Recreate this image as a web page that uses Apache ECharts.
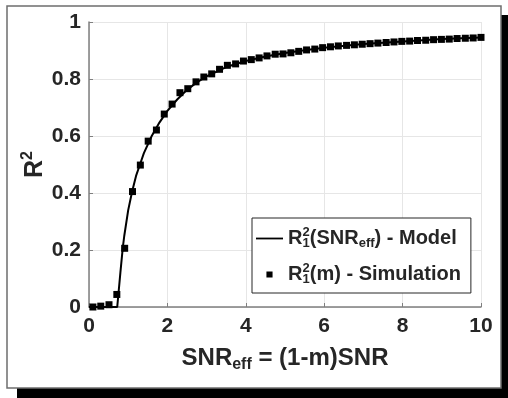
<!DOCTYPE html>
<html>
<head>
<meta charset="utf-8">
<script src="https://cdn.jsdelivr.net/npm/echarts@6/dist/echarts.min.js"></script>
<style>
  html, body { margin: 0; padding: 0; background: #fff; }
  #chart { width: 508px; height: 398px; }
</style>
</head>
<body>
<div id="chart"></div>
<script>
// Model curve R1^2(SNR_eff)
const modelX = [0, 0.25, 0.5, 0.72, 0.8, 0.86, 0.9, 1.0, 1.1, 1.2, 1.3, 1.4, 1.6, 1.8, 2.0, 2.25, 2.5, 2.75, 3.0, 3.5, 4.0, 4.5, 5.0, 5.5, 6.0, 7.0, 8.0, 9.0, 10.0];
const modelY = [0, 0, 0, 0, 0.12, 0.206, 0.25, 0.34, 0.405, 0.46, 0.5, 0.54, 0.6, 0.648, 0.688, 0.728, 0.762, 0.788, 0.809, 0.842, 0.863, 0.879, 0.891, 0.901, 0.91, 0.923, 0.932, 0.94, 0.946];

// Simulation points R1^2(m)
const simX = [0.10, 0.30, 0.51, 0.71, 0.91, 1.11, 1.31, 1.51, 1.72, 1.92,
              2.12, 2.32, 2.52, 2.73, 2.93, 3.13, 3.33, 3.53, 3.74, 3.94,
              4.14, 4.34, 4.54, 4.75, 4.95, 5.15, 5.35, 5.55, 5.76, 5.96,
              6.16, 6.36, 6.57, 6.77, 6.97, 7.17, 7.37, 7.58, 7.78, 7.98,
              8.18, 8.38, 8.59, 8.79, 8.99, 9.19, 9.39, 9.60, 9.80, 10.00];
const simY = [0.000, 0.003, 0.008, 0.044, 0.206, 0.405, 0.498, 0.582, 0.621, 0.677,
              0.712, 0.752, 0.766, 0.790, 0.807, 0.818, 0.834, 0.848, 0.853, 0.863,
              0.868, 0.874, 0.881, 0.887, 0.888, 0.892, 0.897, 0.902, 0.905, 0.910,
              0.913, 0.916, 0.918, 0.920, 0.922, 0.924, 0.926, 0.928, 0.930, 0.932,
              0.933, 0.935, 0.936, 0.938, 0.939, 0.940, 0.942, 0.943, 0.944, 0.946];

const xTicks = { min: 0, max: 10, interval: 2 };
const yTicks = { min: 0, max: 1, interval: 0.2 };

const font = 'Liberation Sans, Arial, Helvetica, sans-serif';
const textColor = '#262626';
const axisColor = '#7f7f7f';

const chart = echarts.init(document.getElementById('chart'), null, { renderer: 'canvas' });

const legendRich = {
  b: { fontFamily: font, fontWeight: 'bold', fontSize: 20, color: textColor, lineHeight: 26 },
  sup: { fontFamily: font, fontWeight: 'bold', fontSize: 13, color: textColor, width: 0.1, padding: [0, 0, 12, 0] },
  sub1: { fontFamily: font, fontWeight: 'bold', fontSize: 13, color: textColor, padding: [10, 0, 0, 0] },
  sub: { fontFamily: font, fontWeight: 'bold', fontSize: 13, color: textColor, padding: [10, 0, 0, 0] }
};

// legend glyphs: plain line for the model, small square for the simulation
const lineIcon = 'path://M0,0H30V2H0Z';
const squareIcon = 'path://M0,0L0.01,0L0.01,0.01ZM11.5,4.5H18.5V11.5H11.5ZM30,16L30.01,16L30.01,15.99Z';

const option = {
  animation: false,
  backgroundColor: '#fff',
  graphic: [
    { type: 'rect', shape: { x: 17, y: 388, width: 491, height: 10 }, style: { fill: '#000' }, z: -1 },
    { type: 'rect', shape: { x: 501, y: 15, width: 7, height: 383 }, style: { fill: '#000' }, z: -1 },
    { type: 'rect', shape: { x: 7, y: 6, width: 494, height: 382 }, style: { fill: 'none', stroke: '#6e6e6e', lineWidth: 1.5 }, z: -1 }
  ],
  grid: { left: 89, top: 22, width: 392, height: 285 },
  legend: {
    orient: 'vertical',
    left: 252,
    top: 218,
    padding: [8, 10, 7, 4],
    itemGap: 12,
    itemWidth: 27,
    itemHeight: 14,
    backgroundColor: '#fff',
    borderColor: textColor,
    borderWidth: 1,
    borderRadius: 0,
    data: [
      { name: 'model', icon: lineIcon },
      { name: 'sim', icon: squareIcon }
    ],
    formatter: function (name) {
      if (name === 'model') {
        return '{b|R}{sup|2}{sub1|1}{b|(SNR}{sub|eff}{b|) - Model}';
      }
      return '{b|R}{sup|2}{sub1|1}{b|(m) - Simulation}';
    },
    textStyle: { rich: legendRich }
  },
  xAxis: {
    type: 'value',
    min: xTicks.min,
    max: xTicks.max,
    interval: xTicks.interval,
    name: '{b|SNR}{sub|eff}{b| = (1-m)SNR}',
    nameLocation: 'middle',
    nameGap: 36,
    nameMoveOverlap: false,
    nameTextStyle: {
      rich: {
        b: { fontFamily: font, fontWeight: 'bold', fontSize: 24, color: textColor },
        sub: { fontFamily: font, fontWeight: 'bold', fontSize: 16, color: textColor, padding: [14, 0, 0, 0] }
      }
    },
    axisLine: { lineStyle: { color: axisColor, width: 1.5 } },
    axisTick: { inside: true, length: 4, lineStyle: { color: axisColor } },
    axisLabel: { fontFamily: font, fontWeight: 'bold', fontSize: 21, color: textColor, margin: 9 },
    splitLine: { show: true, lineStyle: { color: '#e6e6e6', width: 1 } }
  },
  yAxis: {
    type: 'value',
    min: yTicks.min,
    max: yTicks.max,
    interval: yTicks.interval,
    name: '{b|R}{sup|2}',
    nameLocation: 'middle',
    nameGap: 39,
    nameMoveOverlap: false,
    nameRotate: 90,
    nameTextStyle: {
      rich: {
        b: { fontFamily: font, fontWeight: 'bold', fontSize: 25, color: textColor },
        sup: { fontFamily: font, fontWeight: 'bold', fontSize: 16, color: textColor, padding: [0, 0, 14, 0] }
      }
    },
    axisLine: { show: true, lineStyle: { color: axisColor, width: 1.5 } },
    axisTick: { show: true, inside: true, length: 4, lineStyle: { color: axisColor } },
    axisLabel: { fontFamily: font, fontWeight: 'bold', fontSize: 21, color: textColor, margin: 8 },
    splitLine: { show: true, lineStyle: { color: '#e6e6e6', width: 1 } }
  },
  series: [
    {
      name: 'model',
      type: 'line',
      data: modelX.map((x, i) => [x, modelY[i]]),
      symbol: 'none',
      smooth: false,
      lineStyle: { color: '#000', width: 2 },
      itemStyle: { color: '#000' },
      z: 2
    },
    {
      name: 'sim',
      type: 'scatter',
      data: simX.map((x, i) => [x, simY[i]]),
      symbol: 'rect',
      symbolSize: 7,
      itemStyle: { color: '#000', opacity: 1 },
      z: 3
    }
  ]
};

chart.setOption(option);
</script>
</body>
</html>
